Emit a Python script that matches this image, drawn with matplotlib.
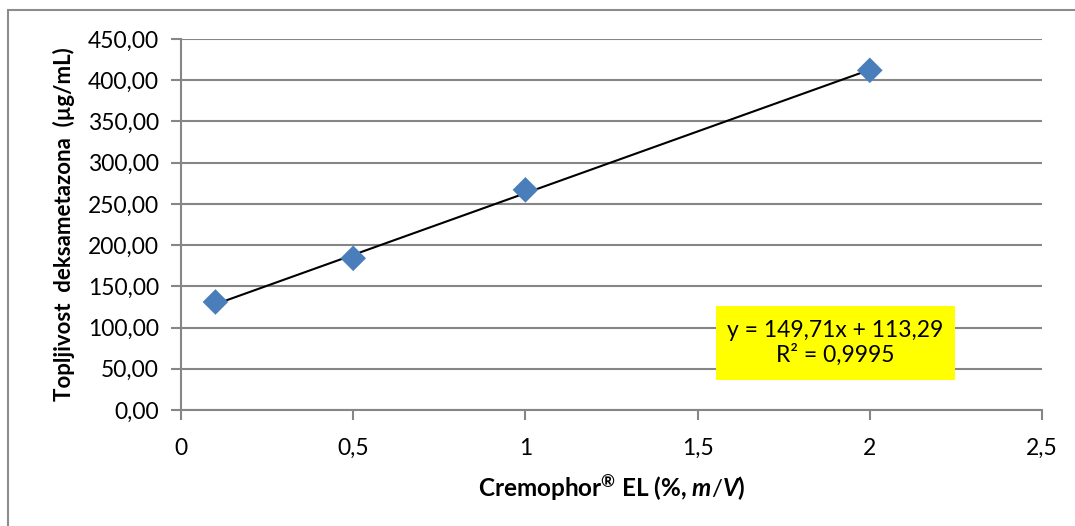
import numpy as np
import matplotlib
matplotlib.use("Agg")
import matplotlib.pyplot as plt
from matplotlib.patches import Rectangle

plt.rcParams['font.family'] = ['Lato', 'DejaVu Sans']
plt.rcParams['mathtext.fontset'] = 'custom'
plt.rcParams['mathtext.rm'] = 'Lato'
plt.rcParams['mathtext.bf'] = 'Lato:bold'
plt.rcParams['mathtext.it'] = 'Lato:bold:italic'

# data
cremophor = [0.1, 0.5, 1.0, 2.0]          # % m/V
solubility = [131.0, 184.0, 267.0, 412.0]  # ug/mL
slope = 149.71
intercept = 113.29
r_squared = "0,9995"

y_ticks = [0, 50, 100, 150, 200, 250, 300, 350, 400, 450]
x_ticks = [0, 0.5, 1, 1.5, 2, 2.5]
x_tick_labels = ["0", "0,5", "1", "1,5", "2", "2,5"]

W, H = 1075, 526
fig = plt.figure(figsize=(W / 100, H / 100), dpi=100)

# outer chart border (only top/left visible in the crop)
fig.patches.append(Rectangle((8 / W, -0.1), 1.2, 1 - 10 / H + 0.1,
                             transform=fig.transFigure, fill=False,
                             edgecolor='#8c8c8c', lw=1.5))

ax = fig.add_axes([181 / W, (H - 410) / H, (1042 - 181) / W, (410 - 39) / H])

grid_col = '#868686'
ax.set_xlim(0, 2.5)
ax.set_ylim(0, 450)
ax.set_yticks(y_ticks)
ax.set_yticklabels([f"{v:.2f}".replace(".", ",") for v in y_ticks])
ax.set_xticks(x_ticks)
ax.set_xticklabels(x_tick_labels)
ax.yaxis.grid(True, color=grid_col, lw=1.5)
ax.set_axisbelow(True)
for s in ['top', 'right']:
    ax.spines[s].set_visible(False)
for s in ['left', 'bottom']:
    ax.spines[s].set_color(grid_col)
    ax.spines[s].set_linewidth(1.5)
ax.tick_params(axis='both', colors=grid_col, width=1.5, length=7,
               labelcolor='black', labelsize=16.5)
ax.tick_params(axis='y', pad=9)
ax.tick_params(axis='x', pad=13)

# trend line
fx = np.array([cremophor[0], cremophor[-1]])
ax.plot(fx, slope * fx + intercept, color='black', lw=1.5, zorder=3)

ax.scatter(cremophor, solubility, marker='D', s=170, color='#4a7ebb',
           edgecolors='none', zorder=4, clip_on=False)

ax.set_ylabel("Topljivost  deksametazona  (µg/mL)", fontsize=16,
              fontweight='bold', labelpad=9)
ax.set_xlabel(r"Cremophor$^{\mathbf{®}}$ EL (%, $\mathit{m/V}$)",
              fontsize=17.5, fontweight='bold', labelpad=10)

# equation box
eq = f"y = {slope:.2f}x + {intercept:.2f}".replace(".", ",")
fig.patches.append(Rectangle((716 / W, (H - 380) / H), (955 - 716) / W, 74 / H,
                             transform=fig.transFigure, facecolor='#ffff00',
                             edgecolor='none', zorder=5))
fig.text(835.5 / W, (H - 343) / H, eq + "\nR² = " + r_squared,
         ha='center', va='center', fontsize=16.5, linespacing=1.15, zorder=6)

fig.savefig("out.png", dpi=100)
